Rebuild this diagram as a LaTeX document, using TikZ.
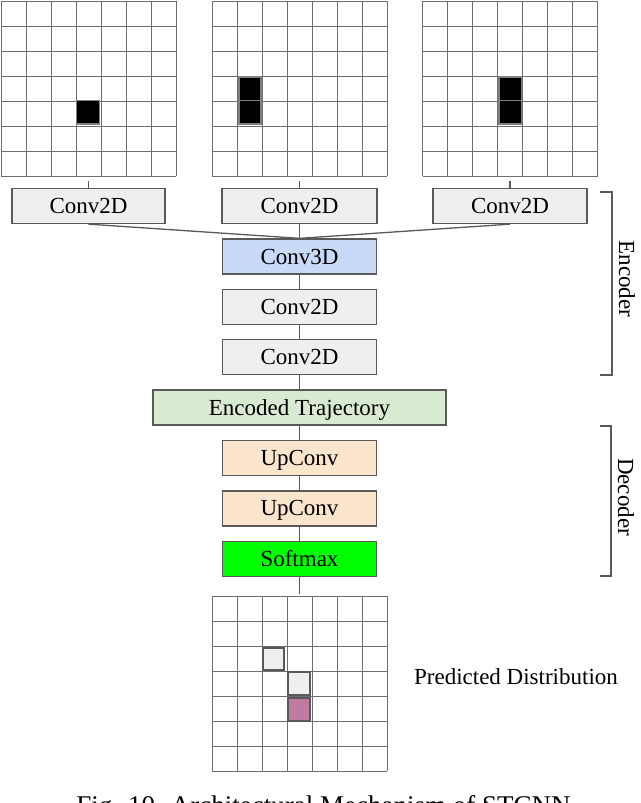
\documentclass[tikz,border=0pt]{standalone}
\usepackage{fontspec}
\setmainfont{Liberation Serif}
\definecolor{bordc}{HTML}{595959}
\definecolor{gridc}{HTML}{6E6E6E}
\definecolor{convgray}{HTML}{EFEFEF}
\definecolor{convblue}{HTML}{C9DAF8}
\definecolor{encgreen}{HTML}{D9EAD3}
\definecolor{uppeach}{HTML}{FCE5CD}
\definecolor{softgreen}{HTML}{00FF00}
\definecolor{pinkcell}{HTML}{C27BA0}
\newcommand\cellgrid[2]{%
  \foreach \i in {0,...,7}{%
    \draw[gridline] ({#1+25*\i},#2) -- ({#1+25*\i},{#2+175});
    \draw[gridline] (#1,{#2+25*\i}) -- ({#1+175},{#2+25*\i});
  }}
\tikzset{
  gridline/.style={draw=gridc, line width=0.9pt},
  layer/.style={draw=bordc, line width=1.3pt, minimum height=35pt, minimum width=154pt,
    inner sep=0pt, text height=15pt, text depth=0pt, font=\fontsize{23}{26}\selectfont},
  link/.style={draw=bordc, line width=1.3pt},
  blackcell/.style={fill=black, draw=gray, line width=1.5pt},
  hicell/.style={draw=bordc, line width=2pt},
  lbl/.style={font=\fontsize{23}{26}\selectfont, inner sep=0pt},
  bracket/.style={draw=bordc, line width=1.3pt}
}
\begin{document}
\begin{tikzpicture}[x=1pt,y=-1pt]
\useasboundingbox (0,0) rectangle (640,803);
\clip (0,0) rectangle (640,803);
\fill[white] (0,0) rectangle (640,803);

% input grids
\cellgrid{1}{1}
\cellgrid{212}{1}
\cellgrid{422.5}{1}
\draw[blackcell] (76.5,100.7) rectangle (99.5,124);
\draw[blackcell] (239,77) rectangle (261,100.5);
\draw[blackcell] (239,100.5) rectangle (261,124);
\draw[blackcell] (499,77) rectangle (521.5,100.5);
\draw[blackcell] (499,100.5) rectangle (521.5,124);

% output grid
\cellgrid{212}{596}
\draw[hicell, fill=convgray] (262.5,647.5) rectangle (284,669.5);
\draw[hicell, fill=convgray] (287.5,672) rectangle (309.5,695);
\draw[hicell, fill=pinkcell] (287.5,698) rectangle (309.5,720.5);

% grid connection points
\coordinate (g1) at (88.5,181);
\coordinate (g2) at (299.5,181);
\coordinate (g3) at (510,181);
\coordinate (gb) at (299.5,594);

% layers
\node[layer, fill=convgray, minimum width=153pt] (c1) at (88.5,206) {Conv2D};
\node[layer, fill=convgray, minimum width=155pt] (c2) at (299.5,206) {Conv2D};
\node[layer, fill=convgray] (c3) at (510,206) {Conv2D};
\node[layer, fill=convblue] (c3d) at (299.5,256.5) {Conv3D};
\node[layer, fill=convgray] (c4) at (299.5,307) {Conv2D};
\node[layer, fill=convgray] (c5) at (299.5,357.3) {Conv2D};
\node[layer, fill=encgreen, minimum width=293pt] (enc) at (299.5,407.5) {Encoded Trajectory};
\node[layer, fill=uppeach] (u1) at (299.5,458.2) {UpConv};
\node[layer, fill=uppeach] (u2) at (299.5,508.4) {UpConv};
\node[layer, fill=softgreen] (sm) at (299.5,559) {Softmax};

% connectors
\draw[link] (g1) -- (c1.north);
\draw[link] (g2) -- (c2.north);
\draw[link] (g3) -- (c3.north);
\draw[link] (c1.south) -- (c3d.north);
\draw[link] (c2.south) -- (c3d.north);
\draw[link] (c3.south) -- (c3d.north);
\draw[link] (c3d.south) -- (c4.north);
\draw[link] (c4.south) -- (c5.north);
\draw[link] (c5.south) -- (enc.north);
\draw[link] (enc.south) -- (u1.north);
\draw[link] (u1.south) -- (u2.north);
\draw[link] (u2.south) -- (sm.north);
\draw[link] (sm.south) -- (gb);

% brackets
\draw[bracket] (600,192) -- (612,192) -- (612,375) -- (600,375);
\draw[bracket] (600,426) -- (611,426) -- (611,576) -- (600,576);
\node[lbl, rotate=-90] (encl) at (627,279) {Encoder};
\node[lbl, rotate=-90] (decl) at (626,497) {Decoder};

% labels
\node[lbl] (pd) at (516,677) {Predicted Distribution};
\node[anchor=base, inner sep=0pt, font=\fontsize{27}{30}\selectfont] (cap) at (323.5,814) {Fig. 10. Architectural Mechanism of STCNN};
\end{tikzpicture}
\end{document}
